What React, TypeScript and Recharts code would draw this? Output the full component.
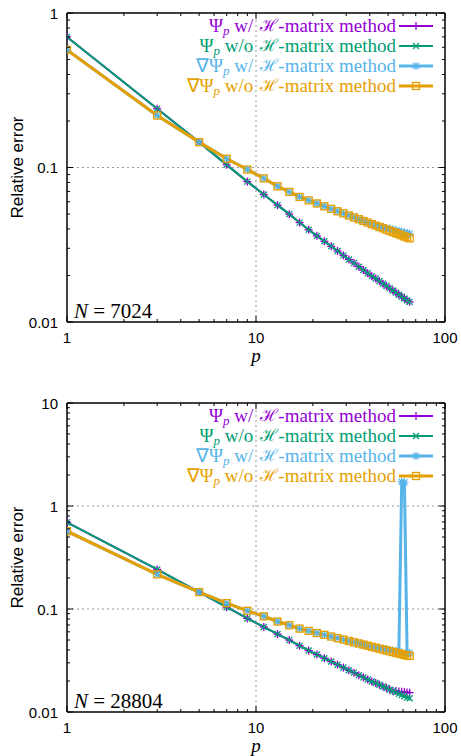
import React from 'react';
import { LineChart, Line, XAxis, YAxis, ReferenceLine } from 'recharts';

// polynomial order p (odd values only)
const pValues = [
  1, 3, 5, 7, 9, 11, 13, 15, 17, 19, 21, 23, 25, 27, 29, 31, 33,
  35, 37, 39, 41, 43, 45, 47, 49, 51, 53, 55, 57, 59, 61, 63, 65,
];

// N = 7024
const psiN7024 = [
  0.70, 0.240, 0.146, 0.104, 0.081, 0.0669, 0.0571, 0.0499, 0.0440, 0.0395, 0.0361,
  0.0333, 0.0309, 0.0288, 0.0270, 0.0254, 0.0241, 0.0228, 0.0217, 0.0207, 0.0198,
  0.0191, 0.0184, 0.0177, 0.0171, 0.0165, 0.0160, 0.0155, 0.0150, 0.0146, 0.0142,
  0.0138, 0.0135,
];
const gradN7024 = [
  0.577, 0.217, 0.146, 0.114, 0.097, 0.085, 0.0756, 0.0695, 0.0645, 0.0613, 0.0585,
  0.0561, 0.0540, 0.0521, 0.0505, 0.0489, 0.0475, 0.0463, 0.0451, 0.0440, 0.0430,
  0.0421, 0.0412, 0.0404, 0.0396, 0.0389, 0.0382, 0.0376, 0.0370, 0.0364, 0.0358,
  0.0353, 0.0348,
];
const gradHN7024 = [
  0.577, 0.217, 0.146, 0.114, 0.097, 0.085, 0.0756, 0.0695, 0.0645, 0.0613, 0.0585,
  0.0561, 0.0540, 0.0521, 0.0505, 0.0489, 0.0475, 0.0463, 0.0451, 0.0440, 0.0430,
  0.0421, 0.0418, 0.0412, 0.0406, 0.0401, 0.0396, 0.0392, 0.0388, 0.0384, 0.0380,
  0.0377, 0.0373,
];

// N = 28804
const psiHN28804 = [
  0.695, 0.242, 0.146, 0.104, 0.081, 0.0669, 0.0571, 0.0499, 0.0440, 0.0395, 0.0361,
  0.0333, 0.0309, 0.0288, 0.0270, 0.0254, 0.0241, 0.0228, 0.0217, 0.0207, 0.0198,
  0.0191, 0.0184, 0.0177, 0.0171, 0.0165, 0.0160, 0.0160, 0.0158, 0.0157, 0.0156,
  0.0155, 0.0154,
];
const psiN28804 = [
  0.695, 0.242, 0.146, 0.104, 0.081, 0.0669, 0.0571, 0.0499, 0.0440, 0.0395, 0.0361,
  0.0333, 0.0309, 0.0288, 0.0270, 0.0254, 0.0241, 0.0228, 0.0217, 0.0207, 0.0198,
  0.0191, 0.0184, 0.0177, 0.0171, 0.0165, 0.0160, 0.0155, 0.0150, 0.0146, 0.0142,
  0.0138, 0.0136,
];
const gradHN28804 = [
  0.569, 0.217, 0.146, 0.114, 0.096, 0.085, 0.0756, 0.0695, 0.0645, 0.0613, 0.0585,
  0.0561, 0.0540, 0.0521, 0.0505, 0.0489, 0.0475, 0.0463, 0.0451, 0.0440, 0.0430,
  0.0421, 0.0418, 0.0412, 0.0406, 0.0401, 0.0396, 0.0392, 0.0388, 1.72, 1.70,
  0.0377, 0.0373,
];
const gradN28804 = [
  0.569, 0.217, 0.146, 0.114, 0.096, 0.085, 0.0756, 0.0695, 0.0645, 0.0613, 0.0585,
  0.0561, 0.0540, 0.0521, 0.0505, 0.0489, 0.0475, 0.0463, 0.0451, 0.0440, 0.0430,
  0.0421, 0.0412, 0.0404, 0.0396, 0.0389, 0.0382, 0.0376, 0.0370, 0.0364, 0.0358,
  0.0353, 0.0350,
];

const xMajor = [1, 10, 100];
const xTicks = [1, 2, 3, 4, 5, 6, 7, 8, 9, 10, 20, 30, 40, 50, 60, 70, 80, 90, 100];
const yTicksTop = [
  0.01, 0.02, 0.03, 0.04, 0.05, 0.06, 0.07, 0.08, 0.09,
  0.1, 0.2, 0.3, 0.4, 0.5, 0.6, 0.7, 0.8, 0.9, 1,
];
const yTicksBottom = [
  ...yTicksTop, 2, 3, 4, 5, 6, 7, 8, 9, 10,
];
const yMajor = [0.01, 0.1, 1, 10];

const PURPLE = '#9400D3';
const GREEN = '#009E73';
const CYAN = '#56B4E9';
const ORANGE = '#E69F00';

const W = 461;
const H = 378;
// axes get 1px of room each, so the plot box ends up at x 67..445, y 13..322
const M = { top: 12, right: 15, bottom: 55, left: 66 };
const PL = M.left + 1;
const PT = M.top + 1;
const PW = W - M.left - M.right - 2;
const PH = H - M.top - M.bottom - 2;

const sansFont = '"Liberation Sans", Arial, sans-serif';
const serifFont = '"Liberation Serif", "Times New Roman", serif';

const PlusMark = ({ cx, cy, color }: any) => (
  <g stroke={color} strokeWidth={1.3}>
    <line x1={cx - 4} y1={cy} x2={cx + 4} y2={cy} />
    <line x1={cx} y1={cy - 4} x2={cx} y2={cy + 4} />
  </g>
);
const CrossMark = ({ cx, cy, color }: any) => (
  <g stroke={color} strokeWidth={1.3}>
    <line x1={cx - 3} y1={cy - 3} x2={cx + 3} y2={cy + 3} />
    <line x1={cx - 3} y1={cy + 3} x2={cx + 3} y2={cy - 3} />
  </g>
);
const StarMark = ({ cx, cy, color }: any) => (
  <g stroke={color} strokeWidth={1.2}>
    <line x1={cx - 4} y1={cy} x2={cx + 4} y2={cy} />
    <line x1={cx} y1={cy - 4} x2={cx} y2={cy + 4} />
    <line x1={cx - 3} y1={cy - 3} x2={cx + 3} y2={cy + 3} />
    <line x1={cx - 3} y1={cy + 3} x2={cx + 3} y2={cy - 3} />
  </g>
);
const SquareMark = ({ cx, cy, color }: any) => (
  <rect x={cx - 3.5} y={cy - 3.5} width={7} height={7} fill="none" stroke={color} strokeWidth={1.3} />
);

const XTick = ({ x, y, payload, side }: any) => {
  const major = xMajor.includes(payload.value);
  const len = major ? 6 : 3;
  const dir = side === 'bottom' ? -1 : 1;
  return (
    <g>
      <line x1={x} y1={y} x2={x} y2={y + dir * len} stroke="#000" />
      {side === 'bottom' && major && (
        <text x={x} y={y + 15} textAnchor="middle" dominantBaseline="central"
          fontFamily={sansFont} fontSize={15} fill="#000">
          {payload.value}
        </text>
      )}
    </g>
  );
};

const YTick = ({ x, y, payload, side }: any) => {
  const major = yMajor.includes(payload.value);
  const len = major ? 6 : 3;
  const dir = side === 'left' ? 1 : -1;
  return (
    <g>
      <line x1={x} y1={y} x2={x + dir * len} y2={y} stroke="#000" />
      {side === 'left' && major && (
        <text x={x - 9} y={y} textAnchor="end" dominantBaseline="central"
          fontFamily={sansFont} fontSize={15} fill="#000">
          {payload.value}
        </text>
      )}
    </g>
  );
};

const legendRows = [
  { grad: false, wo: false, color: PURPLE, Mark: PlusMark, width: 2 },
  { grad: false, wo: true, color: GREEN, Mark: CrossMark, width: 2 },
  { grad: true, wo: false, color: CYAN, Mark: StarMark, width: 3 },
  { grad: true, wo: true, color: ORANGE, Mark: SquareMark, width: 3 },
];

const Legend = () => (
  <>
    {legendRows.map((r, i) => {
      const cy = 26 + i * 20;
      return (
        <React.Fragment key={i}>
          <div style={{
            position: 'absolute', right: W - 396, top: cy - 9, height: 18, lineHeight: '18px',
            whiteSpace: 'pre', color: r.color, fontFamily: serifFont, fontSize: 19, overflow: 'visible',
          }}>
            {r.grad ? '∇' : ''}Ψ
            <span style={{ fontStyle: 'italic', fontSize: 13, position: 'relative', top: 3 }}>p</span>
            {r.wo ? ' w/o' : ' w/'}
            <span style={{
              display: 'inline-block', height: 18, lineHeight: '18px', fontSize: 17,
              marginLeft: 7, verticalAlign: 'top',
            }}>ℋ</span>
            -matrix method
          </div>
          <svg style={{ position: 'absolute', left: 399, top: cy - 6 }} width={34} height={12}>
            <line x1={0} y1={6} x2={34} y2={6} stroke={r.color} strokeWidth={r.width} />
            <r.Mark cx={17} cy={6} color={r.color} />
          </svg>
        </React.Fragment>
      );
    })}
  </>
);

interface PanelProps {
  top: number;
  psiH: number[];
  psi: number[];
  gradH: number[];
  grad: number[];
  yDomain: [number, number];
  yTicks: number[];
  gridY: number[];
  label: string;
}

const axisLine = { stroke: '#000', strokeWidth: 1.5 };

const Panel = ({ top, psiH, psi, gradH, grad, yDomain, yTicks, gridY, label }: PanelProps) => {
  const data = pValues.map((p, i) => ({
    p, psiH: psiH[i], psi: psi[i], gradH: gradH[i], grad: grad[i],
  }));
  return (
    <div style={{ position: 'absolute', left: 0, top, width: W, height: H }}>
      <LineChart width={W} height={H} data={data} margin={M}>
        <XAxis xAxisId="b" dataKey="p" type="number" scale="log" domain={[1, 100]} allowDataOverflow
          ticks={xTicks} interval={0} height={1} tickSize={0} tickMargin={0}
          axisLine={axisLine} tickLine={false}
          tick={(props: any) => <XTick {...props} side="bottom" />} />
        <XAxis xAxisId="t" orientation="top" dataKey="p" type="number" scale="log" domain={[1, 100]} allowDataOverflow
          ticks={xTicks} interval={0} height={1} tickSize={0} tickMargin={0}
          axisLine={axisLine} tickLine={false}
          tick={(props: any) => <XTick {...props} side="top" />} />
        <YAxis yAxisId="l" type="number" scale="log" domain={yDomain} allowDataOverflow
          ticks={yTicks} interval={0} width={1} tickSize={0} tickMargin={0}
          axisLine={axisLine} tickLine={false}
          tick={(props: any) => <YTick {...props} side="left" />} />
        <YAxis yAxisId="r" orientation="right" type="number" scale="log" domain={yDomain} allowDataOverflow
          ticks={yTicks} interval={0} width={1} tickSize={0} tickMargin={0}
          axisLine={axisLine} tickLine={false}
          tick={(props: any) => <YTick {...props} side="right" />} />
        <ReferenceLine xAxisId="b" yAxisId="l" x={10} stroke="#999" strokeDasharray="2 3" />
        {gridY.map((v) => (
          <ReferenceLine key={v} xAxisId="b" yAxisId="l" y={v} stroke="#999" strokeDasharray="2 3" />
        ))}
        <Line xAxisId="b" yAxisId="l" dataKey="psiH" stroke={PURPLE} strokeWidth={2} isAnimationActive={false}
          activeDot={false} dot={(d: any) => <PlusMark key={`a${d.index}`} cx={d.cx} cy={d.cy} color={PURPLE} />} />
        <Line xAxisId="b" yAxisId="l" dataKey="psi" stroke={GREEN} strokeWidth={2} isAnimationActive={false}
          activeDot={false} dot={(d: any) => <CrossMark key={`b${d.index}`} cx={d.cx} cy={d.cy} color={GREEN} />} />
        <Line xAxisId="b" yAxisId="l" dataKey="gradH" stroke={CYAN} strokeWidth={3} isAnimationActive={false}
          activeDot={false} dot={(d: any) => <StarMark key={`c${d.index}`} cx={d.cx} cy={d.cy} color={CYAN} />} />
        <Line xAxisId="b" yAxisId="l" dataKey="grad" stroke={ORANGE} strokeWidth={3} isAnimationActive={false}
          activeDot={false} dot={(d: any) => <SquareMark key={`d${d.index}`} cx={d.cx} cy={d.cy} color={ORANGE} />} />
        <text x={PL + 7} y={PT + PH - 11} dominantBaseline="central" fontFamily={serifFont} fontSize={21}>
          <tspan fontStyle="italic">N</tspan> = {label}
        </text>
        <text x={PL + PW / 2} y={PT + PH + 33} textAnchor="middle" dominantBaseline="central"
          fontFamily={serifFont} fontStyle="italic" fontSize={19}>p</text>
        <text x={17} y={PT + PH / 2} textAnchor="middle" dominantBaseline="central"
          transform={`rotate(-90 17 ${PT + PH / 2})`} fontFamily={sansFont} fontSize={17}>
          Relative error
        </text>
      </LineChart>
      <Legend />
    </div>
  );
}

export default function App() {
  return (
    <div style={{ position: 'absolute', left: 0, top: 0, width: 461, height: 756, background: '#fff', overflow: 'hidden' }}>
      <Panel top={0} psiH={psiN7024} psi={psiN7024} gradH={gradHN7024} grad={gradN7024}
        yDomain={[0.01, 1]} yTicks={yTicksTop} gridY={[0.1]} label="7024" />
      <Panel top={390} psiH={psiHN28804} psi={psiN28804} gradH={gradHN28804} grad={gradN28804}
        yDomain={[0.01, 10]} yTicks={yTicksBottom} gridY={[0.1, 1]} label="28804" />
    </div>
  );
}
